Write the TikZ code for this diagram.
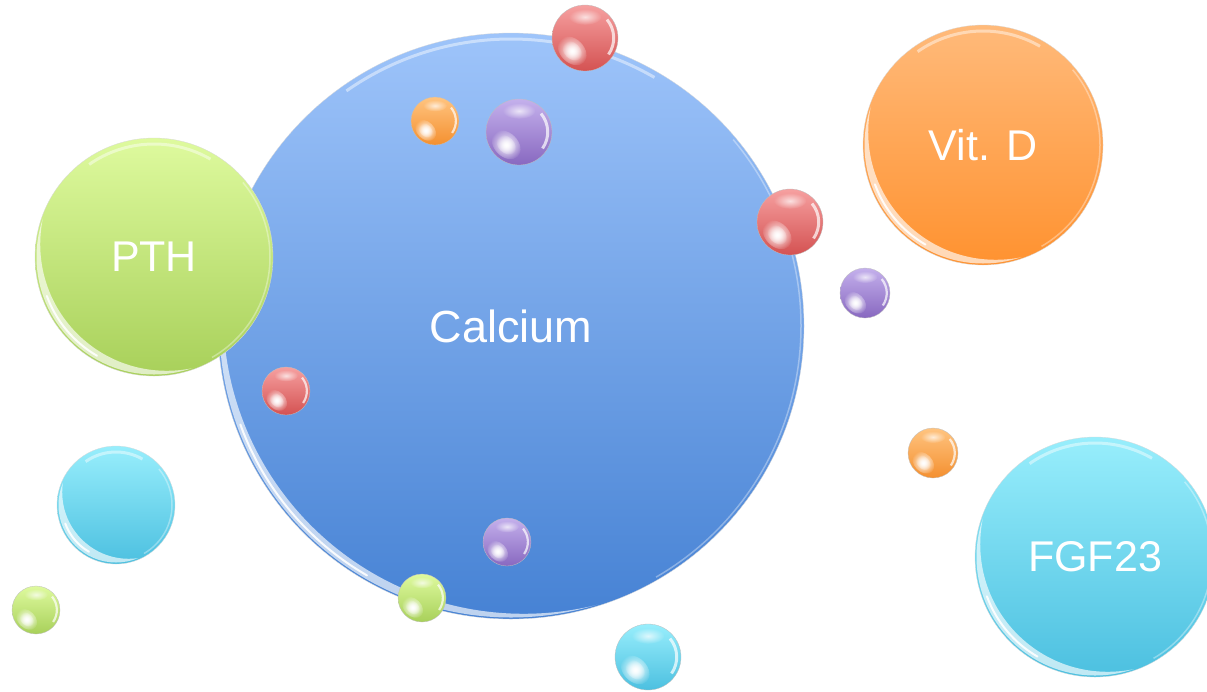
\documentclass[tikz,border=0pt]{standalone}
\usepackage{fontspec}
\setmainfont{Liberation Sans}
\usetikzlibrary{fadings}
\tikzfading[name=spotfade, inner color=transparent!0, outer color=transparent!100]
\tikzfading[name=softfade, inner color=transparent!10, outer color=transparent!100]
\definecolor{caT}{RGB}{158,196,250}\definecolor{caB}{RGB}{70,130,212}
\definecolor{grT}{RGB}{222,250,158}\definecolor{grB}{RGB}{168,208,90}
\definecolor{orT}{RGB}{255,186,122}\definecolor{orB}{RGB}{255,146,48}
\definecolor{cyT}{RGB}{152,238,252}\definecolor{cyB}{RGB}{76,192,224}
\definecolor{rdT}{RGB}{246,160,160}\definecolor{rdB}{RGB}{212,82,82}
\definecolor{puT}{RGB}{196,176,236}\definecolor{puB}{RGB}{136,104,192}
\definecolor{soT}{RGB}{255,196,128}\definecolor{soB}{RGB}{244,144,48}
\tikzset{
  bubble/.style={circle, inner sep=0pt, text=white, draw=black!15, line width=0.3pt},
  ballstyle/.style={circle, inner sep=0pt, draw=black!25, line width=0.3pt},
}
\newcommand\bigbubble[8]{%
  \node[bubble, minimum size=#4*2pt, top color=#5, bottom color=#6, font=\fontsize{#8}{50}\selectfont] (#1) at (#2,-#3) {#7};
  \begin{scope}[shift={(#2,-#3)}]
    \draw[white, opacity=0.45, line width=3pt] (60:#4-6) arc (60:125:#4-6);
    \draw[white, opacity=0.35, line width=1.5pt] (-60:#4-3) arc (-60:40:#4-3);
    \begin{scope}
      \clip (0,0) circle (#4-1.5);
      \fill[white, opacity=0.65, even odd rule] (0,0) circle (#4+20) (45:18) circle (#4+7.5);
    \end{scope}
    \draw[white, opacity=0.9, line width=2pt, line cap=round] (200:#4-5) arc (200:240:#4-5);
  \end{scope}
}
\newcommand\smallbubble[6]{%
  \node[ballstyle, minimum size=#4*2pt, top color=#5, bottom color=#6] (#1) at (#2,-#3) {};
  \begin{scope}[shift={(#2,-#3)}]
    \begin{scope}[rotate=225]
      \fill[white, path fading=spotfade] (0.55*#4,0) ellipse (0.36*#4 and 0.5*#4);
      \fill[white, opacity=0.9, path fading=spotfade] (0.55*#4,0) ellipse (0.24*#4 and 0.34*#4);
    \end{scope}
    \fill[white, opacity=0.8, path fading=softfade] (0,0.64*#4) ellipse (0.5*#4 and 0.24*#4);
    \draw[white, opacity=0.7, line width=0.09*#4 pt] (-35:0.87*#4) arc (-35:40:0.87*#4);
  \end{scope}
}
\begin{document}
\begin{tikzpicture}[x=1pt, y=1pt]
\useasboundingbox (0,0) rectangle (1207,-691);
\clip (0,0) rectangle (1207,-691);
\bigbubble{ca}{511}{326}{293}{caT}{caB}{Calcium}{45}
\bigbubble{pth}{154}{257}{119}{grT}{grB}{PTH}{43}
\bigbubble{vitd}{983}{145}{120}{orT}{orB}{Vit. D}{43}
\bigbubble{fgf}{1095}{557}{120}{cyT}{cyB}{FGF23}{43}
\bigbubble{cyl}{116}{505}{59}{cyT}{cyB}{}{43}
\smallbubble{r1}{585}{38}{33}{rdT}{rdB}
\smallbubble{o1}{435}{121}{24}{soT}{soB}
\smallbubble{p1}{519}{132}{33}{puT}{puB}
\smallbubble{r2}{790}{222}{33}{rdT}{rdB}
\smallbubble{p2}{865}{293}{25}{puT}{puB}
\smallbubble{r3}{286}{391}{24}{rdT}{rdB}
\smallbubble{o2}{933}{453}{25}{soT}{soB}
\smallbubble{p3}{507}{542}{24}{puT}{puB}
\smallbubble{g1}{422}{598}{24}{grT}{grB}
\smallbubble{g2}{36}{610}{24}{grT}{grB}
\smallbubble{c1}{648}{657}{33}{cyT}{cyB}
\end{tikzpicture}
\end{document}
